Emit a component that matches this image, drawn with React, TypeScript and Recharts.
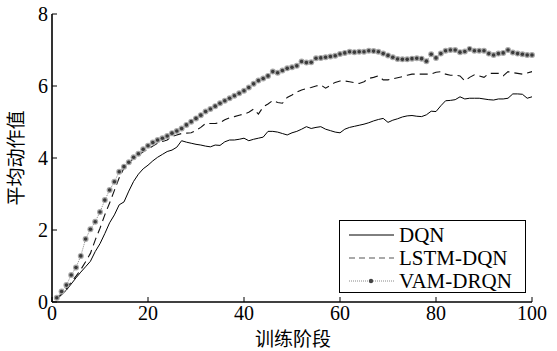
import React from 'react';
import { LineChart, Line, XAxis, YAxis, Legend } from 'recharts';

const stages = Array.from({ length: 100 }, (_, i) => i + 1);

const dqn = [
  0.08, 0.2, 0.33, 0.5, 0.67, 0.83, 0.98, 1.13, 1.4, 1.62,
  1.9, 2.2, 2.42, 2.7, 2.78, 3.08, 3.35, 3.55, 3.7, 3.8,
  3.92, 4.02, 4.1, 4.18, 4.22, 4.3, 4.48, 4.44, 4.41, 4.38,
  4.36, 4.33, 4.31, 4.36, 4.35, 4.45, 4.5, 4.5, 4.52, 4.55,
  4.48, 4.52, 4.55, 4.58, 4.74, 4.74, 4.72, 4.68, 4.64, 4.7,
  4.74, 4.8, 4.87, 4.82, 4.85, 4.87, 4.8, 4.76, 4.72, 4.7,
  4.8, 4.85, 4.88, 4.91, 4.94, 4.98, 5.03, 5.07, 5.1, 4.99,
  5.05, 5.09, 5.14, 5.17, 5.18, 5.16, 5.15, 5.2, 5.3, 5.29,
  5.45, 5.59, 5.6, 5.62, 5.7, 5.64, 5.66, 5.66, 5.66, 5.64,
  5.62, 5.61, 5.64, 5.64, 5.66, 5.78, 5.78, 5.77, 5.66, 5.7,
];

const lstmDqn = [
  0.1, 0.22, 0.38, 0.55, 0.72, 0.9, 1.12, 1.35, 1.72, 2.05,
  2.42, 2.75, 3.1, 3.45, 3.72, 3.88, 3.98, 4.08, 4.17, 4.25,
  4.33, 4.41, 4.46, 4.5, 4.6, 4.64, 4.68, 4.69, 4.7, 4.77,
  4.85, 4.96, 4.96, 4.96, 4.98, 5.06, 5.12, 5.15, 5.19, 5.22,
  5.27, 5.36, 5.22, 5.42, 5.5, 5.6, 5.54, 5.52, 5.68, 5.75,
  5.83, 5.89, 5.93, 5.96, 6.0, 6.03, 5.94, 6.02, 6.1, 6.14,
  6.14, 6.12, 6.09, 6.07, 6.12, 6.21, 6.24, 6.28, 6.17, 6.17,
  6.2, 6.23, 6.26, 6.3, 6.33, 6.33, 6.33, 6.33, 6.33, 6.38,
  6.4, 6.33, 6.3, 6.3, 6.28, 6.14, 6.24, 6.31, 6.28, 6.24,
  6.35, 6.35, 6.35, 6.28, 6.4, 6.37, 6.35, 6.33, 6.36, 6.4,
];

const vamDrqn = [
  0.12, 0.29, 0.47, 0.75, 0.96, 1.28, 1.75, 2.02, 2.23, 2.5,
  2.83, 3.11, 3.34, 3.62, 3.76, 3.88, 4.02, 4.12, 4.24, 4.34,
  4.43, 4.5, 4.55, 4.61, 4.69, 4.75, 4.82, 4.92, 5.01, 5.1,
  5.19, 5.29, 5.36, 5.44, 5.52, 5.59, 5.66, 5.73, 5.8, 5.87,
  5.96, 6.06, 6.15, 6.21, 6.28, 6.4, 6.37, 6.43, 6.49, 6.52,
  6.56, 6.68, 6.65, 6.66, 6.77, 6.78, 6.8, 6.82, 6.84, 6.89,
  6.92, 6.95, 6.94, 6.95, 6.95, 6.98, 6.97, 6.95, 6.9, 6.85,
  6.8, 6.75, 6.74, 6.74, 6.76, 6.77, 6.76, 6.69, 6.88, 6.78,
  6.9, 6.98, 7.0, 7.0, 6.94, 6.96, 7.03, 6.98, 6.98, 6.98,
  6.9, 6.86, 6.9, 6.92, 7.0, 6.93, 6.9, 6.88, 6.86, 6.86,
];

const xTicks = [0, 20, 40, 60, 80, 100];
const yTicks = [0, 2, 4, 6, 8];
const seriesNames = ['DQN', 'LSTM-DQN', 'VAM-DRQN'];

const data = stages.map((s, i) => ({
  stage: s,
  dqn: dqn[i],
  lstm: lstmDqn[i],
  vam: vamDrqn[i],
}));

const numFont = "'Liberation Serif', 'DejaVu Serif', serif";
const cjkFont = "'Noto Sans CJK SC', sans-serif";

const StarDot = (props: any) => {
  const { cx, cy, index } = props;
  if (cx == null || cy == null) return <g key={index} />;
  return (
    <g key={index}>
      <circle cx={cx} cy={cy} r={3} fill="#a8a8a8" />
      <circle cx={cx} cy={cy} r={1.8} fill="#3a3a3a" />
    </g>
  );
};

// mirror axes: no labels, just the inward tick marks
const TopTick = (props: any) => (
  <line x1={props.x} x2={props.x} y1={props.y - 5} y2={props.y} stroke="#000" strokeWidth={1} />
);
const RightTick = (props: any) => (
  <line x1={props.x} x2={props.x + 5} y1={props.y} y2={props.y} stroke="#000" strokeWidth={1} />
);

const LegendBox = () => (
  <div style={{ width: 185, height: 71, border: '1.5px solid #000', background: '#fff' }}>
    <svg width={185} height={71}>
      <line x1={9} x2={54} y1={14} y2={14} stroke="#000" strokeWidth={1} />
      <line x1={9} x2={54} y1={37} y2={37} stroke="#555" strokeWidth={1.2} strokeDasharray="6 4" />
      <line x1={9} x2={54} y1={60} y2={60} stroke="#888" strokeWidth={1} strokeDasharray="1 1" />
      <circle cx={31} cy={60} r={2.2} fill="#444" />
      {seriesNames.map((n, i) => (
        <text key={n} x={59} y={21 + i * 23} fontFamily={numFont} fontSize={21} fill="#000">
          {n}
        </text>
      ))}
    </svg>
  </div>
);

export default function App() {
  return (
    <div style={{ position: 'absolute', left: 0, top: 0, background: '#fff' }}>
      <LineChart width={557} height={351} data={data} margin={{ top: 14, right: 25, bottom: 0, left: 0 }}>
        <XAxis
          dataKey="stage"
          type="number"
          domain={[0, 100]}
          ticks={xTicks}
          height={49}
          tickSize={-5}
          tickMargin={9}
          axisLine={{ stroke: '#000', strokeWidth: 1.6 }}
          tickLine={{ stroke: '#000' }}
          tick={{ fill: '#000', fontSize: 20, fontFamily: numFont }}
          label={{
            content: () => (
              <text x={293} y={346} textAnchor="middle" fontFamily={cjkFont} fontSize={19} fill="#000">
                训练阶段
              </text>
            ),
          }}
        />
        <XAxis
          xAxisId="top"
          orientation="top"
          type="number"
          domain={[0, 100]}
          ticks={xTicks}
          height={0}
          tickSize={-5}
          tickMargin={0}
          tick={TopTick}
          axisLine={{ stroke: '#000', strokeWidth: 1 }}
          tickLine={{ stroke: '#000' }}
        />
        <YAxis
          type="number"
          domain={[0, 8]}
          ticks={yTicks}
          width={52}
          tickSize={-5}
          tickMargin={9}
          axisLine={{ stroke: '#000', strokeWidth: 1.6 }}
          tickLine={{ stroke: '#000' }}
          tick={{ fill: '#000', fontSize: 20, fontFamily: numFont }}
          label={{
            content: () => (
              <text
                x={23}
                y={158}
                textAnchor="middle"
                fontFamily={cjkFont}
                fontSize={19}
                fill="#000"
                transform="rotate(-90 23 158)"
              >
                平均动作值
              </text>
            ),
          }}
        />
        <YAxis
          yAxisId="right"
          orientation="right"
          type="number"
          domain={[0, 8]}
          ticks={yTicks}
          width={0}
          tickSize={-5}
          tickMargin={0}
          tick={RightTick}
          axisLine={{ stroke: '#000', strokeWidth: 1 }}
          tickLine={{ stroke: '#000' }}
        />
        <Legend
          layout="vertical"
          align="center"
          verticalAlign="middle"
          wrapperStyle={{ left: 339, top: 220, width: 188, height: 74 }}
          content={() => <LegendBox />}
        />
        <Line dataKey="dqn" name="DQN" stroke="#000" strokeWidth={1} dot={false} isAnimationActive={false} />
        <Line
          dataKey="lstm"
          name="LSTM-DQN"
          stroke="#111"
          strokeWidth={1.1}
          strokeDasharray="8 5"
          dot={false}
          isAnimationActive={false}
        />
        <Line
          dataKey="vam"
          name="VAM-DRQN"
          stroke="#888"
          strokeWidth={1}
          strokeDasharray="1 1"
          dot={StarDot}
          isAnimationActive={false}
        />
      </LineChart>
    </div>
  );
}
